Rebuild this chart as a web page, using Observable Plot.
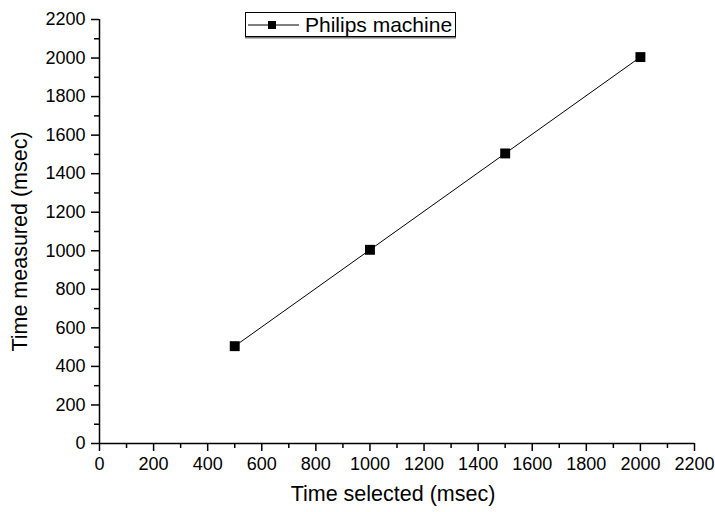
<!DOCTYPE html>
<html>
<head>
<meta charset="utf-8">
<script src="https://cdn.jsdelivr.net/npm/d3@7"></script>
<script src="https://cdn.jsdelivr.net/npm/@observablehq/plot@0.6"></script>
<style>
  html, body { margin: 0; padding: 0; background: #fff; }
  #wrap { position: relative; width: 715px; height: 512px; font-family: "Liberation Sans", Arial, sans-serif; }
  #legend { position: absolute; left: 245px; top: 12px; width: 211px; height: 25px; border: 1px solid #000;
    box-shadow: 0 1.5px 0 #777; background: #fff; box-sizing: border-box; }
  #legend svg { position: absolute; left: 0; top: 0; }
  #legend span { position: absolute; left: 59px; top: -1px; font-size: 21px; line-height: 25px; color: #000; }
</style>
</head>
<body>
<div id="wrap"></div>
<script>
const seriesName = "Philips machine";
const timeSelected = [500, 1000, 1500, 2000];
const timeMeasured = [505, 1005, 1505, 2005];
const majorTicks = [0, 200, 400, 600, 800, 1000, 1200, 1400, 1600, 1800, 2000, 2200];
const minorTicks = [100, 300, 500, 700, 900, 1100, 1300, 1500, 1700, 1900, 2100];
const xLabel = "Time selected (msec)";
const yLabel = "Time measured (msec)";

const data = timeSelected.map((x, i) => ({x, y: timeMeasured[i]}));

const chart = Plot.plot({
  width: 715,
  height: 512,
  marginLeft: 99,
  marginRight: 21,
  marginTop: 19,
  marginBottom: 69,
  style: {fontFamily: "'Liberation Sans', Arial, sans-serif", color: "#000", background: "#fff"},
  x: {domain: [0, 2200]},
  y: {domain: [0, 2200]},
  marks: [
    Plot.axisX({ticks: majorTicks, tickSize: 8, tickPadding: 6, strokeWidth: 1.5, label: null, fontSize: 18, fontVariant: "normal", tickFormat: d => String(d)}),
    Plot.axisX({ticks: minorTicks, tickSize: 5, strokeWidth: 1.5, text: null, label: null}),
    Plot.axisY({ticks: majorTicks, tickSize: 8, tickPadding: 6, strokeWidth: 1.5, label: null, fontSize: 18, fontVariant: "normal", tickFormat: d => String(d)}),
    Plot.axisY({ticks: minorTicks, tickSize: 5, strokeWidth: 1.5, text: null, label: null}),
    Plot.ruleX([0], {stroke: "#000", strokeWidth: 1.5}),
    Plot.ruleY([0], {stroke: "#000", strokeWidth: 1.5}),
    Plot.line(data, {x: "x", y: "y", stroke: "#000", strokeWidth: 1}),
    Plot.dot(data, {x: "x", y: "y", symbol: "square", r: 5.6, fill: "#000", stroke: "none"}),
    Plot.text([xLabel], {frameAnchor: "bottom", dy: 57, dx: -4, fontSize: 21.5, fill: "#000", lineAnchor: "bottom", textAnchor: "middle"}),
    Plot.text([yLabel], {frameAnchor: "left", dx: -79, dy: 10, rotate: -90, fontSize: 21.5, fill: "#000", lineAnchor: "middle", textAnchor: "middle"})
  ]
});

const wrap = document.getElementById("wrap");
wrap.appendChild(chart);

const legend = document.createElement("div");
legend.id = "legend";
legend.innerHTML = `<svg width="60" height="25"><line x1="2" y1="12" x2="53" y2="12" stroke="#000" stroke-width="1"/><rect x="22" y="8" width="8" height="8" fill="#000"/></svg><span></span>`;
legend.querySelector("span").textContent = seriesName;
wrap.appendChild(legend);
</script>
</body>
</html>
